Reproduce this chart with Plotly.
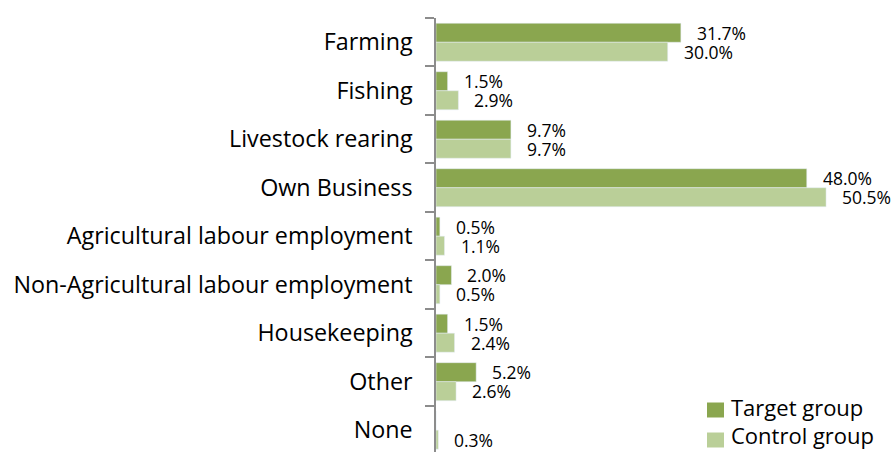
import plotly.graph_objects as go

categories = ["Farming", "Fishing", "Livestock rearing", "Own Business",
              "Agricultural labour employment", "Non-Agricultural labour employment",
              "Housekeeping", "Other", "None"]
target_group = [31.7, 1.5, 9.7, 48.0, 0.5, 2.0, 1.5, 5.2, 0.0]
control_group = [30.0, 2.9, 9.7, 50.5, 1.1, 0.5, 2.4, 2.6, 0.3]
series_names = ["Target group", "Control group"]

TARGET_COLOR = "#8AA64F"
CONTROL_COLOR = "#BACF98"
FONT = "Open Sans"

W, H = 892, 452
M_L, M_R, M_T, M_B = 436, 8, 18, 0


def px_to_paper(x, y):
    """Convert figure pixel coordinates to paper fractions of the plot area."""
    return ((x - M_L) / (W - M_L - M_R), (H - M_B - y) / (H - M_T - M_B))


fig = go.Figure()
for name, vals, color in zip(series_names, (target_group, control_group),
                             (TARGET_COLOR, CONTROL_COLOR)):
    fig.add_trace(go.Bar(y=categories, x=vals, orientation="h", name=name,
                         marker_color=color, showlegend=False))

# value labels to the right of each bar
annotations = []
for cat, t, c in zip(categories, target_group, control_group):
    for val, shift in ((t, 9.5), (c, -9.5)):
        if val <= 0:
            continue
        annotations.append(dict(x=val, y=cat, xref="x", yref="y", text=f"{val:.1f}%",
                                showarrow=False, xanchor="left", yanchor="middle",
                                xshift=14, yshift=shift,
                                font=dict(family=FONT, size=17.5, color="#000000")))

# legend in the lower right corner: square swatch + series name
shapes = []
swatch_centers = [410, 440]
for i, (name, color) in enumerate(zip(series_names, (TARGET_COLOR, CONTROL_COLOR))):
    cy = swatch_centers[i]
    x0, y0 = px_to_paper(707, cy + 7.5)
    x1, y1 = px_to_paper(724, cy - 7.5)
    shapes.append(dict(type="rect", xref="paper", yref="paper", x0=x0, x1=x1,
                       y0=y0, y1=y1, fillcolor=color, line_width=0))
    if i == 0:
        tx, ty = px_to_paper(729, 406.5)
        yanchor = "middle"
    else:
        tx, ty = px_to_paper(729, H)
        yanchor = "bottom"
    annotations.append(dict(x=tx, y=ty, xref="paper", yref="paper", text=name,
                            showarrow=False, xanchor="left", yanchor=yanchor,
                            font=dict(family=FONT, size=22, color="#000000")))

fig.update_layout(
    width=W, height=H,
    margin=dict(l=M_L, r=M_R, t=M_T, b=M_B),
    paper_bgcolor="white", plot_bgcolor="white",
    barmode="group", bargap=0.216, bargroupgap=0,
    font=dict(family=FONT, size=20, color="#000000"),
    showlegend=False,
    annotations=annotations,
    shapes=shapes,
    xaxis=dict(range=[0, 58], visible=False),
    yaxis=dict(range=[8.45, -0.5], showline=True, linecolor="#8C8C8C", linewidth=1.5,
               ticks="outside", tickson="boundaries", ticklen=9, tickcolor="#8C8C8C",
               tickwidth=1.5, ticklabelstandoff=17, showgrid=False,
               tickfont=dict(family=FONT, size=23.3, color="#000000")),
)

fig.write_html("out.html")
